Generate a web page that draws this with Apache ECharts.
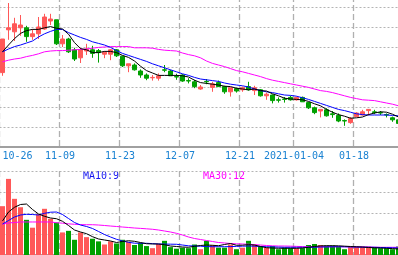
<!DOCTYPE html>
<html><head><meta charset="utf-8">
<style>html,body{margin:0;padding:0;background:#fff;}#c{width:398px;height:255px;}</style>
<script src="https://cdn.jsdelivr.net/npm/echarts@6/dist/echarts.min.js"></script>
</head><body><div id="c"></div><script>
const dates = ['2020-10-26','2020-10-27','2020-10-28','2020-10-29','2020-10-30',
'2020-11-02','2020-11-03','2020-11-04','2020-11-05','2020-11-06',
'2020-11-09','2020-11-10','2020-11-11','2020-11-12','2020-11-13',
'2020-11-16','2020-11-17','2020-11-18','2020-11-19','2020-11-20',
'2020-11-23','2020-11-24','2020-11-25','2020-11-26','2020-11-27',
'2020-11-30','2020-12-01','2020-12-02','2020-12-03','2020-12-04',
'2020-12-07','2020-12-08','2020-12-09','2020-12-10','2020-12-11',
'2020-12-14','2020-12-15','2020-12-16','2020-12-17','2020-12-18',
'2020-12-21','2020-12-22','2020-12-23','2020-12-24','2020-12-25',
'2020-12-28','2020-12-29','2020-12-30','2020-12-31',
'2021-01-04','2021-01-05','2021-01-06','2021-01-07','2021-01-08',
'2021-01-11','2021-01-12','2021-01-13','2021-01-14','2021-01-15',
'2021-01-18','2021-01-19','2021-01-20','2021-01-21','2021-01-22',
'2021-01-25','2021-01-26','2021-01-27'];
const labelDates = ['2020-10-26','2020-11-09','2020-11-23','2020-12-07','2020-12-21','2021-01-04','2021-01-18'];
const labelTexts = ['10-26','11-09','11-23','12-07','12-21','2021-01-04','01-18'];

const open = [11.86,12.93,12.88,12.98,12.98,12.76,12.83,12.95,13.15,13.18,
12.58,12.70,12.43,12.23,12.40,12.43,12.41,12.32,12.32,12.43,
12.27,12.03,12.05,11.90,11.80,11.73,11.72,11.93,11.90,11.76,
11.80,11.66,11.63,11.45,11.64,11.49,11.61,11.51,11.38,11.46,
11.43,11.51,11.41,11.43,11.28,11.30,11.18,11.20,11.24,11.18,
11.24,11.11,10.98,10.90,10.93,10.83,10.79,10.66,10.61,10.76,
10.80,10.91,10.88,10.86,10.81,10.73,10.68];
const close = [12.70,12.98,13.08,13.05,12.76,12.83,13.00,13.25,13.20,12.58,
12.70,12.38,12.20,12.43,12.45,12.34,12.36,12.37,12.43,12.28,
12.03,12.08,11.93,11.80,11.72,11.74,11.78,11.92,11.78,11.75,
11.65,11.65,11.51,11.50,11.63,11.58,11.51,11.38,11.48,11.40,
11.48,11.43,11.48,11.28,11.32,11.16,11.17,11.19,11.18,11.24,
11.13,10.98,10.86,10.94,10.78,10.81,10.65,10.65,10.71,10.85,
10.88,10.94,10.86,10.85,10.80,10.68,10.59];
const low = [11.78,12.68,12.65,12.78,12.63,12.68,12.70,12.93,13.05,12.55,
12.50,12.35,12.15,12.10,12.30,12.23,12.11,12.22,12.17,12.25,
12.00,11.87,11.91,11.73,11.67,11.66,11.66,11.87,11.78,11.68,
11.63,11.59,11.47,11.43,11.57,11.38,11.50,11.33,11.26,11.36,
11.38,11.41,11.30,11.26,11.18,11.09,11.11,11.11,11.16,11.16,
11.13,10.95,10.82,10.74,10.76,10.73,10.62,10.53,10.58,10.75,
10.79,10.79,10.82,10.80,10.74,10.63,10.59];
const high = [12.70,13.60,13.23,13.30,13.03,12.95,13.25,13.33,13.33,13.18,
12.80,12.73,12.48,12.48,12.58,12.53,12.45,12.40,12.45,12.45,
12.28,12.08,12.09,11.94,11.84,11.80,11.84,12.05,11.93,11.83,
11.82,11.72,11.68,11.55,11.70,11.63,11.66,11.53,11.49,11.48,
11.51,11.63,11.53,11.45,11.36,11.31,11.24,11.25,11.28,11.26,
11.26,11.13,11.01,10.94,10.97,10.90,10.84,10.69,10.75,10.87,
10.93,10.94,10.93,10.90,10.84,10.76,10.68];
const volume = [93,145,107,91,67,52,78,88,69,62,
43,46,29,43,34,31,26,20,26,22,
29,25,19,23,17,13,21,27,15,12,
14,13,20,11,27,19,14,14,20,11,
14,27,20,17,14,17,11,14,13,13,
13,19,21,19,18,18,16,11,16,16,
16,16,15,13,13,11,16];

const ma5 = [12.38,12.55,12.71,12.84,12.91,12.94,12.94,12.98,13.01,12.97,
12.95,12.82,12.61,12.46,12.43,12.36,12.36,12.39,12.39,12.36,
12.29,12.24,12.15,12.02,11.91,11.85,11.79,11.79,11.79,11.79,
11.78,11.75,11.67,11.61,11.59,11.57,11.55,11.52,11.51,11.47,
11.45,11.43,11.45,11.41,11.40,11.33,11.28,11.22,11.20,11.19,
11.18,11.14,11.08,11.03,10.94,10.87,10.81,10.77,10.72,10.73,
10.75,10.81,10.85,10.88,10.87,10.82,10.75];
const ma10 = [12.38,12.45,12.51,12.55,12.60,12.65,12.75,12.83,12.89,12.94,
12.94,12.86,12.80,12.74,12.69,12.63,12.59,12.55,12.49,12.41,
12.34,12.29,12.24,12.19,12.14,12.08,12.03,11.98,11.93,11.88,
11.83,11.79,11.74,11.70,11.68,11.66,11.64,11.60,11.57,11.55,
11.53,11.50,11.45,11.41,11.38,11.36,11.33,11.30,11.29,11.27,
11.23,11.19,11.14,11.09,11.04,10.99,10.94,10.91,10.87,10.83,
10.81,10.80,10.80,10.80,10.80,10.79,10.78];
const ma30 = [12.13,12.17,12.20,12.22,12.26,12.29,12.33,12.38,12.40,12.41,
12.41,12.42,12.43,12.44,12.45,12.47,12.49,12.50,12.51,12.51,
12.51,12.51,12.48,12.48,12.48,12.47,12.44,12.42,12.41,12.40,
12.35,12.31,12.28,12.23,12.15,12.09,12.05,12.01,11.96,11.91,
11.88,11.84,11.80,11.76,11.71,11.67,11.64,11.61,11.58,11.55,
11.52,11.49,11.45,11.41,11.39,11.36,11.32,11.28,11.24,11.21,
11.18,11.17,11.16,11.13,11.10,11.07,11.03];
const volMa5 = [64.8,81.9,90.9,96.2,97.1,86.7,78.1,73.7,70.5,69.1,
64.2,56.2,47.6,43.8,40.6,34.9,30.5,28.6,26.7,23.8,
25.7,27.2,26.1,23.8,21.5,21,21,19.6,17.1,16.2,
15.2,14.7,16.6,18.1,19,18.5,17.7,20,21.9,18.5,
18.7,19.8,19,16.2,13.9,13.3,12.8,12.8,12.8,12.8,
13.3,14.7,16.2,17.3,17.7,17.7,17.5,16.8,16.2,15.6,
15.2,14.3,13.7,13.3,12.8,12.2,11.4];
const volMa10 = [59,65.7,72.4,76.2,77.5,77.1,76.2,79.4,81.5,81.9,
77.1,69.5,61.9,57.1,54.3,50.5,44.8,39,34.3,29.9,
26.7,24.2,22.5,22.3,22.3,21.7,21,20.8,20.6,20.4,
19,17.5,17.1,16.8,16,15.8,15.8,15.8,16,16.4,
16.8,17.1,16.8,16.2,15.8,15.4,15,14.7,14.7,14.7,
14.7,14.7,14.9,15.2,15.4,15.6,15.8,15.6,15.4,15.2,
15,14.9,14.7,14.3,14.1,13.7,13.3];
const volMa30 = [58.7,61,61.9,62.9,62.9,62.9,62.9,62.9,62.9,61.5,
60.6,59.4,58.5,57.9,57.7,57.7,57.1,56.2,55.2,54.3,
53.3,52.4,51.4,50.7,49.9,49,47.6,45.7,43.8,41.3,
38.1,34.3,31.4,29.5,27.6,25.7,23.8,22.9,21.9,21.3,
21,20.4,19.8,19,18.1,17.5,17.1,17.1,16.8,16.4,
16,15.8,15.8,15.8,15.8,15.8,15.8,15.8,15.6,15.4,
15.2,15,14.9,14.7,14.7,14.7,14.7];
const volLegend = ['MA10:9','MA30:12'];

const UP = '#ff5858', DOWN = '#00a000';
const FONT = 'DejaVu Sans Mono';
const isLabel = (i) => labelDates.indexOf(dates[i]) >= 0;
const vLine = { show: true, interval: (i) => isLabel(i), lineStyle: { color: '#b0b0b0', width: 1.3, type: [6, 3] } };
const hLine = { show: true, lineStyle: { color: '#b4b4b4', width: 1, type: [2, 2] } };

const chart = echarts.init(document.getElementById('c'), null, { renderer: 'canvas' });
chart.setOption({
  animation: false,
  backgroundColor: '#fff',
  grid: [
    { left: -0.5, top: -13, width: 402, height: 160, outerBoundsMode: 'none', containLabel: false },
    { left: -0.5, top: 171, width: 402, height: 84, outerBoundsMode: 'none', containLabel: false }
  ],
  xAxis: [
    { type: 'category', gridIndex: 0, data: dates, boundaryGap: true,
      axisLine: { show: true, lineStyle: { color: '#a0a0a0', width: 2 } },
      axisTick: { show: false },
      axisLabel: { interval: (i) => isLabel(i), alignMinLabel: 'left',
        formatter: (v) => labelTexts[labelDates.indexOf(v)],
        color: '#1a82d2', fontFamily: FONT, fontSize: 10, margin: 4, padding: [0, 5, 0, 0] },
      splitLine: vLine },
    { type: 'category', gridIndex: 1, data: dates, boundaryGap: true, position: 'top',
      axisLine: { show: true, lineStyle: { color: '#a0a0a0', width: 2 } },
      axisTick: { show: false }, axisLabel: { show: false },
      splitLine: vLine }
  ],
  yAxis: [
    { type: 'value', gridIndex: 0, min: 10, max: 14, interval: 0.5,
      axisLine: { show: false }, axisTick: { show: false }, axisLabel: { show: false }, splitLine: hLine },
    { type: 'value', gridIndex: 1, min: 0, max: 160, interval: 40,
      axisLine: { show: false }, axisTick: { show: false }, axisLabel: { show: false }, splitLine: hLine }
  ],
  graphic: [
    { type: 'text', left: 83, top: 171, style: { text: volLegend[0], fill: '#1414f0', font: '10px "DejaVu Sans Mono"' } },
    { type: 'text', left: 203, top: 171, style: { text: volLegend[1], fill: '#ff00ff', font: '10px "DejaVu Sans Mono"' } }
  ],
  series: [
    { type: 'candlestick', xAxisIndex: 0, yAxisIndex: 0, barWidth: 4,
      data: dates.map((d, i) => [open[i], close[i], low[i], high[i]]),
      itemStyle: { color: UP, color0: DOWN, borderColor: UP, borderColor0: DOWN, borderWidth: 1 } },
    { type: 'line', xAxisIndex: 0, yAxisIndex: 0, data: ma30, showSymbol: false, lineStyle: { color: '#ff00ff', width: 1 }, z: 3 },
    { type: 'line', xAxisIndex: 0, yAxisIndex: 0, data: ma10, showSymbol: false, lineStyle: { color: '#0000ff', width: 1 }, z: 3 },
    { type: 'line', xAxisIndex: 0, yAxisIndex: 0, data: ma5, showSymbol: false, lineStyle: { color: '#000000', width: 1 }, z: 3 },
    { type: 'bar', xAxisIndex: 1, yAxisIndex: 1, barWidth: 5,
      data: volume.map((v, i) => ({ value: v, itemStyle: { color: close[i] > open[i] ? UP : DOWN } })) },
    { type: 'line', xAxisIndex: 1, yAxisIndex: 1, data: volMa30, showSymbol: false, lineStyle: { color: '#ff00ff', width: 1 }, z: 3 },
    { type: 'line', xAxisIndex: 1, yAxisIndex: 1, data: volMa10, showSymbol: false, lineStyle: { color: '#0000ff', width: 1 }, z: 3 },
    { type: 'line', xAxisIndex: 1, yAxisIndex: 1, data: volMa5, showSymbol: false, lineStyle: { color: '#000000', width: 1 }, z: 3 }
  ]
});
</script></body></html>
